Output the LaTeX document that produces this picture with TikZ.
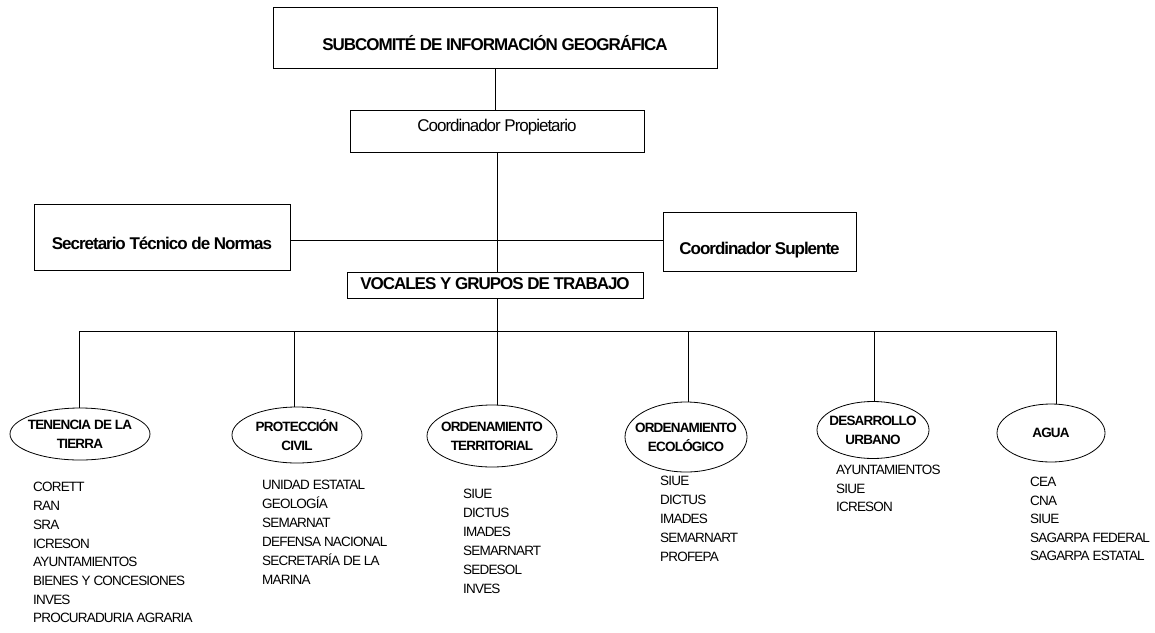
\documentclass[tikz,border=0pt]{standalone}
\usepackage{fontspec}
\setmainfont{Liberation Sans}[LetterSpace=-6]
\usepackage{tikz}
\usetikzlibrary{shapes.geometric}
\tikzset{
  caja/.style={draw,rectangle,inner sep=0pt,anchor=base,line width=.8pt},
  grupo/.style={draw,ellipse,inner xsep=-8pt,inner ysep=0pt,align=center,line width=.8pt,
    font=\fontsize{13.5}{19}\selectfont\bfseries},
  item/.style={anchor=mid west,inner sep=0pt,font=\fontsize{13.5}{18}\selectfont},
  linea/.style={line width=.8pt}
}

\begin{document}
\begin{tikzpicture}[x=1pt,y=-1pt]
\useasboundingbox (0,0) rectangle (1155,632);
\node[caja,minimum width=444pt,text height=43pt,text depth=18pt,font=\fontsize{17}{20}\selectfont\bfseries]
  (sub) at (495,50) {SUBCOMITÉ DE INFORMACIÓN GEOGRÁFICA};
\node[caja,minimum width=294pt,text height=21pt,text depth=21pt,font=\fontsize{17}{20}\selectfont]
  (cp) at (497,131) {Coordinador Propietario};
\node[caja,minimum width=256pt,text height=45pt,text depth=21pt,font=\fontsize{17}{20}\selectfont\bfseries]
  (sec) at (162,249) {Secretario Técnico de Normas};
\node[caja,minimum width=193pt,text height=42pt,text depth=17pt,font=\fontsize{17}{20}\selectfont\bfseries]
  (sup) at (759.5,254) {Coordinador Suplente};
\node[caja,minimum width=296pt,text height=17.5pt,text depth=8.5pt,font=\fontsize{17}{20}\selectfont\bfseries]
  (voc) at (495,289.5) {VOCALES Y GRUPOS DE TRABAJO};
\coordinate (h) at (300,240);
\draw[linea] (sub.south) -- (sub.south |- cp.north);
\draw[linea] (cp.south) -- (cp.south |- voc.north);
\draw[linea] (sec.east |- h) -- (sup.west |- h);
\foreach \x [count=\i] in {79,294,497,688,874,1056} \coordinate (b\i) at (\x,331);
\draw[linea] (b1) -- (b6);
\draw[linea] (b3 |- voc.south) -- (b3);
\node[grupo,minimum width=140pt,minimum height=52pt] (ten) at (80,434) {TENENCIA DE LA\\TIERRA};
\node[grupo,minimum width=130pt,minimum height=56pt] (pro) at (297,435) {PROTECCIÓN\\CIVIL};
\node[grupo,minimum width=130pt,minimum height=62pt] (ter) at (492,436) {ORDENAMIENTO\\TERRITORIAL};
\node[grupo,minimum width=122pt,minimum height=70pt] (eco) at (686,437) {ORDENAMIENTO\\ECOLÓGICO};
\node[grupo,minimum width=112pt,minimum height=57pt] (urb) at (873,430) {DESARROLLO\\URBANO};
\node[grupo,minimum width=108pt,minimum height=58pt] (agua) at (1051,433) {AGUA};
\foreach \i/\g in {1/ten,2/pro,3/ter,4/eco,5/urb,6/agua} \draw[linea] (b\i) -- (b\i |- \g.north);
\foreach \t [count=\i from 0] in {CORETT,RAN,SRA,ICRESON,AYUNTAMIENTOS,BIENES Y CONCESIONES,INVES,PROCURADURIA AGRARIA}
  \node[item] (ten\i) at (33,{489.3+18.7*\i}) {\t};
\foreach \t [count=\i from 0] in {UNIDAD ESTATAL,GEOLOGÍA,SEMARNAT,DEFENSA NACIONAL,SECRETARÍA DE LA,MARINA}
  \node[item] (pro\i) at (262,{487.3+19*\i}) {\t};
\foreach \t [count=\i from 0] in {SIUE,DICTUS,IMADES,SEMARNART,SEDESOL,INVES}
  \node[item] (ter\i) at (463,{496.3+19*\i}) {\t};
\foreach \t [count=\i from 0] in {SIUE,DICTUS,IMADES,SEMARNART,PROFEPA}
  \node[item] (eco\i) at (660,{483.3+18.8*\i}) {\t};
\foreach \t [count=\i from 0] in {AYUNTAMIENTOS,SIUE,ICRESON}
  \node[item] (urb\i) at (836,{472.3+18.5*\i}) {\t};
\foreach \t [count=\i from 0] in {CEA,CNA,SIUE,SAGARPA FEDERAL,SAGARPA ESTATAL}
  \node[item] (agua\i) at (1030,{484.3+18.5*\i}) {\t};
\end{tikzpicture}
\end{document}
